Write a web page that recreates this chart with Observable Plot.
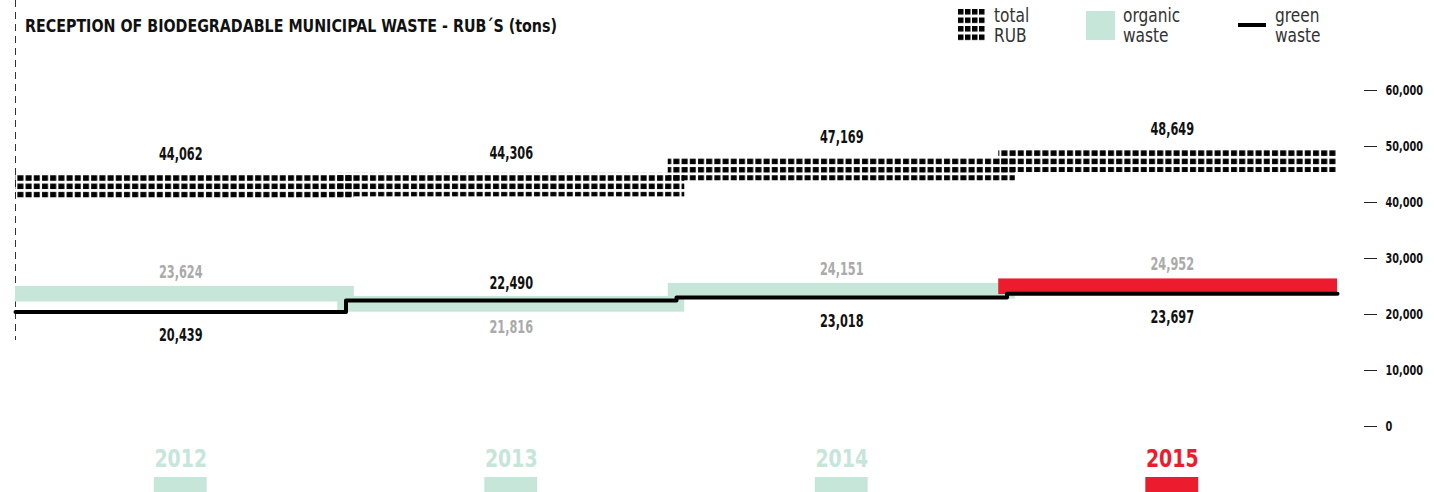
<!DOCTYPE html>
<html>
<head>
<meta charset="utf-8">
<script src="https://cdn.jsdelivr.net/npm/d3@7"></script>
<script src="https://cdn.jsdelivr.net/npm/@observablehq/plot@0.6"></script>
<style>
  html, body { margin: 0; padding: 0; background: #fff; }
  #wrap { position: relative; width: 1436px; height: 492px; overflow: hidden; }
  #chart { position: absolute; left: 0; top: 0; }
  .cond { font-family: "DejaVu Sans Condensed", "DejaVu Sans", sans-serif; font-stretch: condensed; }
  #title { position: absolute; left: 25px; top: 15px; font-weight: bold; font-size: 18px; color: #111; white-space: nowrap; transform-origin: 0 0; }
  .leg { position: absolute; top: 5px; font-size: 19px; line-height: 20px; color: #333; font-weight: 300; transform-origin: 0 0; transform: scaleX(0.9); }
  svg text { font-stretch: condensed; }
</style>
</head>
<body>
<div id="wrap">
  <div id="chart"></div>
  <div id="title" class="cond"></div>
  <svg style="position:absolute;left:958px;top:9px" width="28" height="33">
    <defs><pattern id="legdots" width="7" height="8.5" patternUnits="userSpaceOnUse"><rect x="0" y="0" width="5.5" height="5.5" fill="#000"/></pattern></defs>
    <rect x="0" y="0" width="28" height="33" fill="url(#legdots)"/>
  </svg>
  <div class="leg cond" style="left:994px">total<br>RUB</div>
  <div style="position:absolute;left:1086px;top:11px;width:29px;height:29px;background:#c6e6da"></div>
  <div class="leg cond" style="left:1123px">organic<br>waste</div>
  <div style="position:absolute;left:1238px;top:23px;width:28px;height:4px;background:#000"></div>
  <div class="leg cond" style="left:1275px">green<br>waste</div>
</div>
<script>
const title = "RECEPTION OF BIODEGRADABLE MUNICIPAL WASTE - RUB´S (tons)";
const years = ["2012", "2013", "2014", "2015"];
const totalRUB = [44062, 44306, 47169, 48649];
const organicWaste = [23624, 21816, 24151, 24952];
const greenWaste = [20439, 22490, 23018, 23697];
const organicLabelSide = ["above", "below", "above", "above"];
const greenLabelSide = ["below", "above", "below", "below"];
const yTicks = [0, 10000, 20000, 30000, 40000, 50000, 60000];

const mint = "#c6e6da";
const red = "#ec1c2e";
const font = '"DejaVu Sans Condensed", "DejaVu Sans", sans-serif';

const rows = years.map((y, i) => ({
  i, year: y,
  total: totalRUB[i], organic: organicWaste[i], green: greenWaste[i],
  orgSide: organicLabelSide[i], greenSide: greenLabelSide[i],
  last: i === years.length - 1,
  x1: Math.max(0, i - 0.025), x2: Math.min(years.length, i + 1 + 0.025)
}));
const linePts = rows.map(d => ({x: d.i, y: d.green}))
  .concat([{x: years.length, y: greenWaste[years.length - 1]}]);
const fmt = d3.format(",");
const lbl = {fontWeight: "bold", fontSize: 17, className: "sq"};

const chart = Plot.plot({
  width: 1436,
  height: 492,
  marginTop: 90,
  marginBottom: 66,
  marginLeft: 15,
  marginRight: 73,
  style: {fontFamily: font, background: "#fff"},
  x: {domain: [0, 4], range: [15, 1337], axis: null},
  y: {domain: [0, 60000], axis: null},
  marks: [
    Plot.ruleX([0], {stroke: "#333", strokeWidth: 1, strokeDasharray: "7,5", insetTop: -90, insetBottom: 86}),
    // total RUB bands
    Plot.rect(rows, {x1: "x1", x2: "x2", y1: d => d.total - 3300, y2: d => d.total + 900, fill: "url(#rubdots)"}),
    Plot.text(rows, {x: d => d.i + 0.5, y: "total", dy: -25, text: d => fmt(d.total), fill: "#111", ...lbl}),
    // organic bands
    Plot.rect(rows, {x1: "x1", x2: "x2", y1: d => d.organic - 1400, y2: d => d.organic + 1400, fill: d => d.last ? red : mint}),
    Plot.text(rows.filter(d => d.orgSide === "above"), {x: d => d.i + 0.5, y: "organic", dy: -22, text: d => fmt(d.organic), fill: "#aaaaaa", ...lbl}),
    Plot.text(rows.filter(d => d.orgSide === "below"), {x: d => d.i + 0.5, y: "organic", dy: 23, text: d => fmt(d.organic), fill: "#aaaaaa", ...lbl}),
    // green waste step line
    Plot.line(linePts, {x: "x", y: "y", curve: "step-after", stroke: "#000", strokeWidth: 4}),
    Plot.text(rows.filter(d => d.greenSide === "above"), {x: d => d.i + 0.5, y: "green", dy: -17, text: d => fmt(d.green), fill: "#111", ...lbl}),
    Plot.text(rows.filter(d => d.greenSide === "below"), {x: d => d.i + 0.5, y: "green", dy: 24, text: d => fmt(d.green), fill: "#111", ...lbl}),
    // right axis
    Plot.axisY(yTicks, {anchor: "right", tickSize: 13, tickPadding: 9, tickFormat: fmt, fontSize: 13.5, fontWeight: "bold", fill: "#111", stroke: "#222", textAnchor: "start", className: "sqaxis"}),
    // year labels and blocks
    Plot.text(rows, {x: d => d.i + 0.5, frameAnchor: "bottom", dy: 40, text: "year", fill: d => d.last ? red : mint, fontWeight: "bold", fontSize: 25, className: "sqyear"}),
    Plot.rect(rows, {x1: d => d.i + 0.5 - 0.08, x2: d => d.i + 0.5 + 0.08, fill: d => d.last ? red : mint, insetTop: 387, insetBottom: -66})
  ]
});

const defs = d3.select(chart).insert("defs", ":first-child");
const pat = defs.append("pattern").attr("id", "rubdots").attr("width", 8.2).attr("height", 8.3).attr("patternUnits", "userSpaceOnUse");
pat.append("rect").attr("x", 1).attr("y", 1).attr("width", 6).attr("height", 5.5).attr("fill", "#000");

document.getElementById("chart").appendChild(chart);

// horizontally condense the text to mimic the narrow typeface
function squeeze(sel, k) {
  chart.querySelectorAll(sel).forEach(t => {
    const w = t.getComputedTextLength();
    if (w > 0) {
      t.setAttribute("textLength", (w * k).toFixed(1));
      t.setAttribute("lengthAdjust", "spacingAndGlyphs");
    }
  });
}
squeeze(".sq text", 0.74);
squeeze(".sqaxis text", 0.8);
squeeze(".sqyear text", 0.84);

const t = document.getElementById("title");
t.textContent = title;
const tw = t.getBoundingClientRect().width;
t.style.transform = `scaleX(${532 / tw})`;
</script>
</body>
</html>
